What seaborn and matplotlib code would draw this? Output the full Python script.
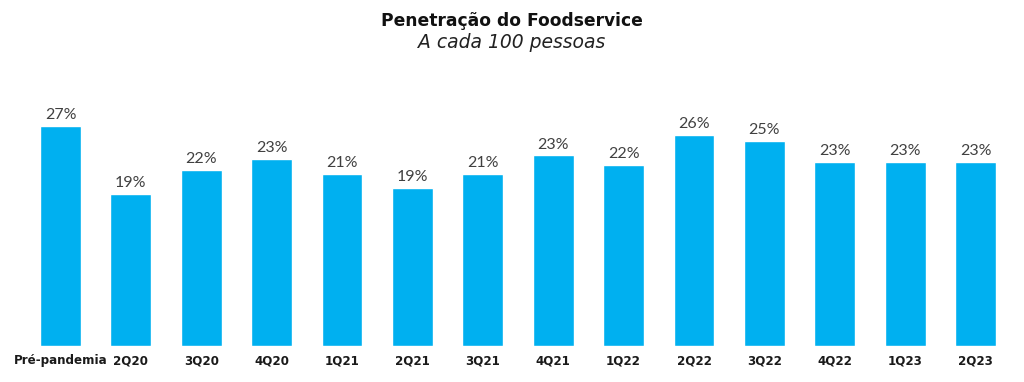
import matplotlib
matplotlib.use("Agg")
import matplotlib.pyplot as plt
import matplotlib.transforms as mtransforms
import seaborn as sns
import pandas as pd

# dados do gráfico
periodos = ["Pré-pandemia", "2Q20", "3Q20", "4Q20", "1Q21", "2Q21", "3Q21",
            "4Q21", "1Q22", "2Q22", "3Q22", "4Q22", "1Q23", "2Q23"]
penetracao = [27.0, 18.7, 21.6, 23.0, 21.1, 19.4, 21.1,
              23.4, 22.2, 25.9, 25.2, 22.6, 22.6, 22.6]
rotulos = ["27%", "19%", "22%", "23%", "21%", "19%", "21%",
           "23%", "22%", "26%", "25%", "23%", "23%", "23%"]

df = pd.DataFrame({"periodo": periodos, "valor": penetracao})

sns.set_style("white")
plt.rcParams["font.family"] = ["Lato", "DejaVu Sans"]

fig = plt.figure(figsize=(10.24, 3.82), dpi=100)
ax = fig.add_axes([0.0247, 0.0942, 0.9623, 0.638])

sns.barplot(data=df, x="periodo", y="valor", color="#00B0F0",
            saturation=1, width=0.58, ax=ax)

# rótulos de valor acima das barras
for i, (v, r) in enumerate(zip(penetracao, rotulos)):
    ax.text(i, v + 0.45, r, ha="center", va="bottom", fontsize=11.5,
            color="#404040")

ax.set_xlim(-0.5, len(periodos) - 0.5)
ax.set_ylim(0, 29.9)
ax.set_xlabel("")
ax.set_ylabel("")
ax.set_yticks([])
ax.set_xticks([])

# categorias alinhadas pela linha de base
trans = mtransforms.blended_transform_factory(ax.transData, ax.transAxes)
for i, p in enumerate(periodos):
    ax.text(i, -0.074, p, transform=trans, ha="center", va="baseline",
            fontsize=8.6, fontweight="bold", family="DejaVu Sans",
            color="#1a1a1a")
sns.despine(ax=ax, left=True, bottom=True)

fig.text(0.5, 0.945, "Penetração do Foodservice", ha="center", va="center",
         fontsize=12.3, fontweight="bold", color="#111111",
         family="DejaVu Sans")
fig.text(0.5, 0.888, "A cada 100 pessoas", ha="center", va="center",
         fontsize=13.5, style="italic", color="#222222",
         family="DejaVu Sans")

fig.savefig("out.png", dpi=100)
